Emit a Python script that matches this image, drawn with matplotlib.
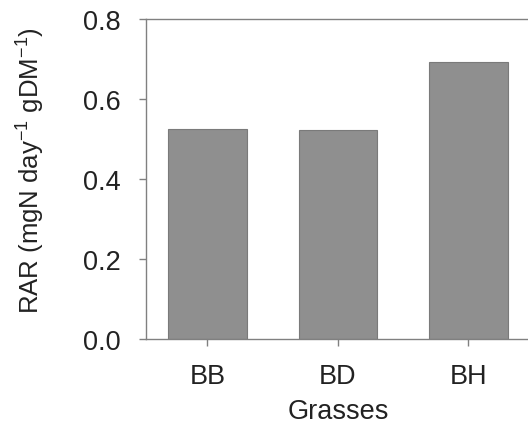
import matplotlib
matplotlib.use('Agg')
import numpy as np
import matplotlib.pyplot as plt

grasses = ['BB', 'BD', 'BH']
rar = [0.526, 0.523, 0.693]
yticks = [0.0, 0.2, 0.4, 0.6, 0.8]

plt.rcParams['font.family'] = ['Liberation Sans', 'DejaVu Sans']

fig = plt.figure(figsize=(5.28, 4.27), dpi=100)
# axes runs a bit past the right edge, the right spine is cut off in the reference
ax = fig.add_axes([0.2765, 0.2037, 0.727, 0.7494])

x = np.arange(len(grasses))
ax.bar(x, rar, width=0.6, color='#8f8f8f', edgecolor='#7a7a7a', linewidth=0.8)

ax.set_xlim(-0.47, 2.47)
ax.set_ylim(0, 0.8)
ax.set_xticks(x)
ax.set_xticklabels(grasses)
ax.set_yticks(yticks)
ax.set_yticklabels(['{0:.1f}'.format(v) for v in yticks])

for s in ax.spines.values():
    s.set_color('#808080')
    s.set_linewidth(1.0)
ax.tick_params(direction='out', length=5, width=1.0, color='#808080',
               labelsize=19.5, labelcolor='#222222')
ax.tick_params(axis='y', pad=13)
ax.tick_params(axis='x', pad=12)

ax.set_ylabel('RAR (mgN day$^{\\mathregular{-1}}$ gDM$^{\\mathregular{-1}}$)',
              fontsize=18.5, color='#222222')
ax.yaxis.set_label_coords(-0.26, 0.528)
ax.set_xlabel('Grasses', fontsize=19.5, color='#222222', labelpad=7)

fig.savefig('out.png', dpi=100)
